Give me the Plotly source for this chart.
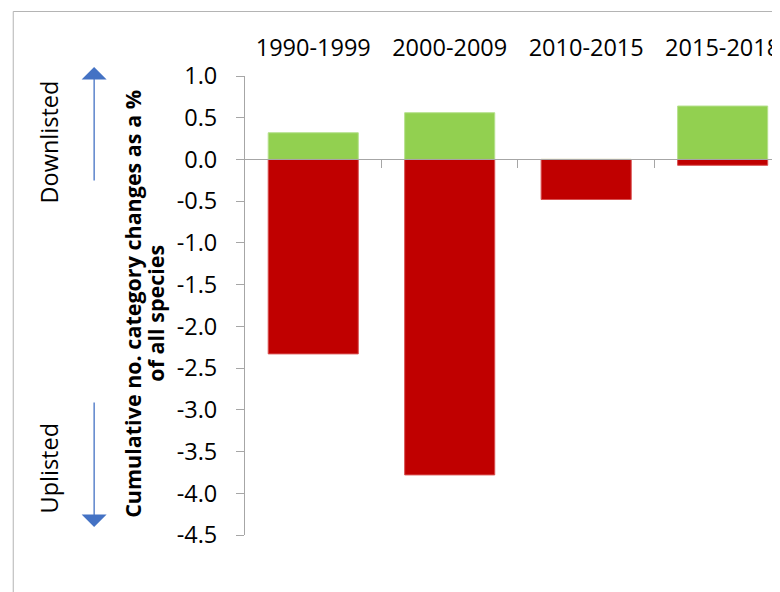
import plotly.graph_objects as go

# ---- data ----
categories = ["1990-1999", "2000-2009", "2010-2015", "2015-2018"]
downlisted = [0.32, 0.56, 0.0, 0.64]
uplisted = [-2.33, -3.78, -0.48, -0.07]
y_tickvals = [1.0, 0.5, 0.0, -0.5, -1.0, -1.5, -2.0, -2.5, -3.0, -3.5, -4.0, -4.5]
y_ticktext = ["1.0", "0.5", "0.0", "-0.5", "-1.0", "-1.5", "-2.0", "-2.5", "-3.0", "-3.5", "-4.0", "-4.5"]
boundaries = [0.5, 1.5, 2.5, 3.5]

# ---- layout geometry (screen px -> figure px; page body has an 8px margin) ----
OFF = 8
W, H = 780 - OFF, 592 - OFF
ML, MT = 245 - OFF, 76 - OFF
MB = H - (535 - OFF)
MR = 0
PW, PH = W - ML - MR, H - MT - MB
BAND = 137.5
x_range = [-0.5, -0.5 + PW / BAND]
y_range = [-4.5, 1.0]


def px_x(p):
    return (p - OFF - ML) / PW


def px_y(p):
    return (H - MB - (p - OFF)) / PH


FONT = "Open Sans, Noto Sans, sans-serif"
GRAY = "#a6a6a6"
BLUE = "#4472C4"

fig = go.Figure()
fig.add_trace(go.Bar(x=categories, y=downlisted, name="Downlisted",
                     marker=dict(color="#92D050", line=dict(color="#b5e08c", width=1)),
                     showlegend=False))
fig.add_trace(go.Bar(x=categories, y=uplisted, name="Uplisted",
                     marker=dict(color="#C00000", line=dict(color="#d85050", width=1)),
                     showlegend=False))
# helper trace for the zero-crossing category axis (boundary ticks)
fig.add_trace(go.Scatter(x=[None], y=[None], xaxis="x2", yaxis="y",
                         showlegend=False, hoverinfo="skip"))

zero_pos = (0 - y_range[0]) / (y_range[1] - y_range[0])

fig.update_layout(
    width=W, height=H,
    margin=dict(l=ML, r=MR, t=MT, b=MB, pad=0),
    paper_bgcolor="white", plot_bgcolor="white",
    barmode="relative", bargap=0.34,
    font=dict(family=FONT, color="black", size=24),
    xaxis=dict(type="category", range=x_range, side="top",
               showline=False, ticks="", showgrid=False, zeroline=False,
               tickfont=dict(family=FONT, size=23.5, color="black"),
               ticklabelstandoff=14),
    xaxis2=dict(overlaying="x", anchor="free", position=zero_pos,
                range=x_range, showline=True, linecolor=GRAY, linewidth=1,
                ticks="outside", ticklen=8, tickcolor=GRAY, tickwidth=1,
                tickmode="array", tickvals=boundaries,
                showticklabels=False, showgrid=False, zeroline=False),
    yaxis=dict(range=y_range, showline=True, linecolor=GRAY, linewidth=1,
               ticks="outside", ticklen=8, tickcolor=GRAY, tickwidth=1,
               tickmode="array", tickvals=y_tickvals, ticktext=y_ticktext,
               showgrid=False, zeroline=False,
               tickfont=dict(family=FONT, size=23.5, color="black"),
               ticklabelstandoff=14),
)

# frame
fig.add_shape(type="rect", xref="paper", yref="paper",
              x0=px_x(11.5), x1=px_x(800), y0=px_y(610), y1=px_y(11.5),
              line=dict(color="#b4b4b4", width=1), fillcolor="rgba(0,0,0,0)",
              layer="below")

# y title (two lines, bold)
fig.add_annotation(xref="paper", yref="paper", x=px_x(131), y=px_y(304),
                   xanchor="center", yanchor="middle",
                   text="<b>Cumulative no. category changes as a %</b>",
                   textangle=-90, showarrow=False,
                   font=dict(family=FONT, size=21.5, color="black"))
fig.add_annotation(xref="paper", yref="paper", x=px_x(154), y=px_y(313),
                   xanchor="center", yanchor="middle",
                   text="<b>of all species</b>",
                   textangle=-90, showarrow=False,
                   font=dict(family=FONT, size=21.5, color="black"))

# Downlisted / Uplisted labels
fig.add_annotation(xref="paper", yref="paper", x=px_x(48), y=px_y(142),
                   xanchor="center", yanchor="middle",
                   text="Downlisted", textangle=-90, showarrow=False,
                   font=dict(family=FONT, size=23.5, color="black"))
fig.add_annotation(xref="paper", yref="paper", x=px_x(48), y=px_y(468),
                   xanchor="center", yanchor="middle",
                   text="Uplisted", textangle=-90, showarrow=False,
                   font=dict(family=FONT, size=23.5, color="black"))

# arrows
fig.add_annotation(xref="paper", yref="paper", x=px_x(93), y=px_y(67),
                   ax=0, ay=182 - 67, axref="pixel", ayref="pixel",
                   showarrow=True, arrowhead=1, arrowsize=3.2, arrowwidth=1.3,
                   arrowcolor=BLUE, text="")
fig.add_annotation(xref="paper", yref="paper", x=px_x(93), y=px_y(527),
                   ax=0, ay=401 - 527, axref="pixel", ayref="pixel",
                   showarrow=True, arrowhead=1, arrowsize=3.2, arrowwidth=1.3,
                   arrowcolor=BLUE, text="")

fig.write_html("out.html")
